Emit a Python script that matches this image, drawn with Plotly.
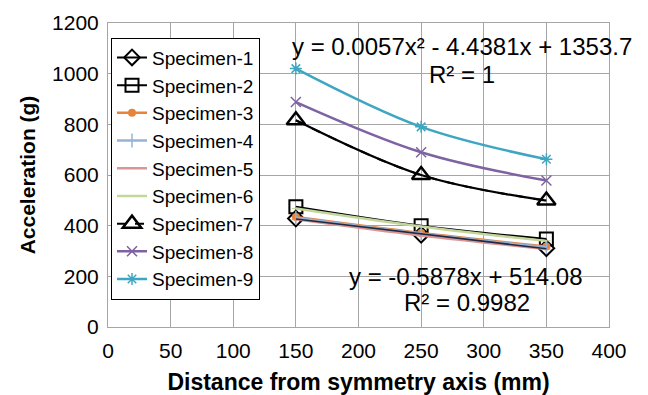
import numpy as np
import plotly.graph_objects as go

distance = [150, 250, 350]
specimen_1 = [428, 364, 311]
specimen_2 = [475, 400, 347]
specimen_3 = [434, 371, 318]
specimen_4 = [431, 368, 315]
specimen_5 = [425, 361, 308]
specimen_6 = [468, 397, 340]
specimen_7 = [816, 600, 499]
specimen_8 = [888, 690, 578]
specimen_9 = [1020, 790, 662]

x_ticks = [0, 50, 100, 150, 200, 250, 300, 350, 400]
y_ticks = [0, 200, 400, 600, 800, 1000, 1200]

FONT = "Liberation Sans, Arial, sans-serif"

styles = [
    ("Specimen-1", specimen_1, dict(color="black", width=2), dict(symbol="diamond-open", size=12, color="black", line=dict(width=2, color="black"))),
    ("Specimen-2", specimen_2, dict(color="black", width=2), dict(symbol="square-open", size=13, color="black", line=dict(width=2, color="black"))),
    ("Specimen-3", specimen_3, dict(color="#E6843C", width=2.5), dict(symbol="circle", size=8, color="#E6843C")),
    ("Specimen-4", specimen_4, dict(color="#95B3D7", width=2.5), dict(symbol="line-ns-open", size=10, color="#95B3D7", line=dict(width=1.5, color="#95B3D7"))),
    ("Specimen-5", specimen_5, dict(color="#DA9694", width=2.5), dict(symbol="line-ew-open", size=6, color="#DA9694", line=dict(width=1, color="#DA9694"))),
    ("Specimen-6", specimen_6, dict(color="#C3D69B", width=2.5), dict(symbol="line-ew-open", size=6, color="#C3D69B", line=dict(width=1, color="#C3D69B"))),
    ("Specimen-7", specimen_7, dict(color="black", width=2, dash="dash"), dict(symbol="triangle-up-open", size=16, color="black", line=dict(width=2.5, color="black"))),
    ("Specimen-8", specimen_8, dict(color="#7F62A1", width=2.5), dict(symbol="x-thin-open", size=10, color="#7F62A1", line=dict(width=1.5, color="#7F62A1"))),
    ("Specimen-9", specimen_9, dict(color="#3FA6C1", width=2.5), dict(symbol="asterisk-open", size=10, color="#3FA6C1", line=dict(width=1.5, color="#3FA6C1"))),
]

fig = go.Figure()
for name, ys, ln, mk in styles:
    ln = dict(ln, shape="spline")
    fig.add_trace(go.Scatter(x=distance, y=ys, name=name, mode="lines+markers",
                             line=ln, marker=mk))

# polynomial trendline for Specimen-7 (solid black)
fig.add_trace(go.Scatter(x=distance, y=specimen_7, mode="lines", showlegend=False,
                         line=dict(color="black", width=2.2, shape="spline"), hoverinfo="skip"))
# linear trendline for Specimen-1
coef = np.polyfit(distance, specimen_1, 1)
lin_x = [min(distance), max(distance)]
fig.add_trace(go.Scatter(x=lin_x, y=np.polyval(coef, lin_x), mode="lines", showlegend=False,
                         line=dict(color="#1F2A44", width=1.5), hoverinfo="skip"))

ann_font = dict(family=FONT, size=24, color="black")
fig.add_annotation(x=283, y=1109, text="y = 0.0057x² - 4.4381x + 1353.7", showarrow=False, font=ann_font, xref="x", yref="y")
fig.add_annotation(x=283, y=995, text="R² = 1", showarrow=False, font=ann_font, xref="x", yref="y")
fig.add_annotation(x=286, y=201, text="y = -0.5878x + 514.08", showarrow=False, font=ann_font, xref="x", yref="y")
fig.add_annotation(x=287, y=95, text="R² = 0.9982", showarrow=False, font=ann_font, xref="x", yref="y")

grid = "#A6A6A6"
fig.update_layout(
    width=648, height=395,
    margin=dict(l=108, r=39, t=23, b=68, autoexpand=False),
    paper_bgcolor="white", plot_bgcolor="white",
    font=dict(family=FONT, size=21, color="black"),
    showlegend=True,
    legend=dict(x=0.006, y=0.952, xanchor="left", yanchor="top",
                bgcolor="white", bordercolor="black", borderwidth=1,
                font=dict(family=FONT, size=19, color="black"),
                tracegroupgap=0, itemwidth=30),
    xaxis=dict(range=[0, 400], tickvals=x_ticks, ticktext=[str(v) for v in x_ticks],
               automargin=False,
               showgrid=True, gridcolor=grid, gridwidth=1,
               showline=True, linecolor=grid, linewidth=1, mirror=True,
               ticks="outside", ticklen=5, tickcolor="rgba(0,0,0,0)", zeroline=False,
               tickfont=dict(family=FONT, size=21),
               title=dict(text="<b>Distance from symmetry axis (mm)</b>", standoff=12,
                          font=dict(family=FONT, size=23))),
    yaxis=dict(range=[0, 1200], tickvals=y_ticks, ticktext=[str(v) for v in y_ticks],
               automargin=False,
               showgrid=True, gridcolor=grid, gridwidth=1,
               showline=True, linecolor=grid, linewidth=1, mirror=True,
               ticks="outside", ticklen=4, tickcolor="rgba(0,0,0,0)", zeroline=False,
               tickfont=dict(family=FONT, size=21),
               title=dict(text="<b>Acceleration (g)</b>", standoff=10,
                          font=dict(family=FONT, size=21))),
)

fig.write_html("out.html")
